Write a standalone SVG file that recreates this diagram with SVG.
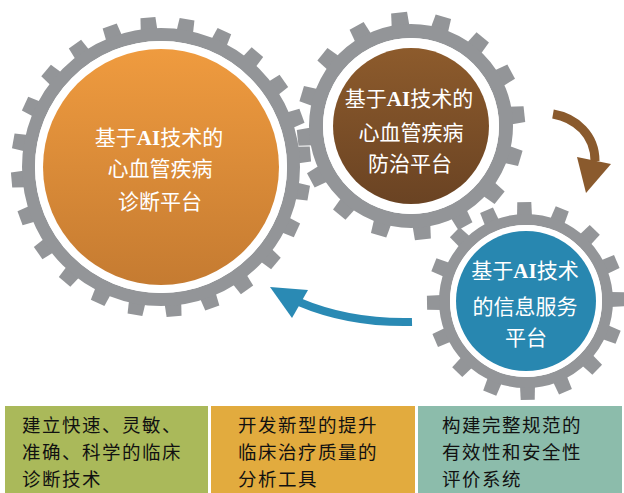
<svg xmlns="http://www.w3.org/2000/svg" xmlns:xlink="http://www.w3.org/1999/xlink" width="624" height="493" viewBox="0 0 624 493">
  <defs>
    <linearGradient id="gradOrange" x1="0" y1="0" x2="0" y2="1">
      <stop offset="0" stop-color="#ef9b3f"/>
      <stop offset="1" stop-color="#c57b31"/>
    </linearGradient>
    <linearGradient id="gradBrown" x1="0" y1="0" x2="0" y2="1">
      <stop offset="0" stop-color="#8d5b2c"/>
      <stop offset="1" stop-color="#6a4323"/>
    </linearGradient>
    <!-- teeth, pointing along +x from the gear centre -->
    <path id="toothL" d="M134,-8.5 L150,-7.5 L150,7.5 L134,8.5 Z"/>
    <path id="toothM" d="M98,-9 L114,-8 L114,8 L98,9 Z"/>
    <path id="toothS" d="M84,-7.5 L99,-7 L99,7 L84,7.5 Z"/>
  </defs>
  <style>
    .gear { fill: #939598; }
    .ring { fill: none; stroke: #939598; }
    .gap { fill: #ffffff; }
    .disk-text { font-family: "Liberation Serif", "Noto Sans CJK SC", serif; font-size: 21px; fill: #ffffff; text-anchor: middle; }
    .disk-text tspan.latin { font-weight: bold; }
    .box-text { font-family: "Noto Sans CJK SC", "Liberation Sans", sans-serif; font-size: 18.5px; letter-spacing: 1.5px; fill: #111111; }
  </style>

  <rect width="624" height="493" fill="#ffffff"/>

  <!-- large gear: diagnosis platform -->
  <g id="gear-diagnosis">
    <g class="gear" transform="translate(161,167)">
      <use xlink:href="#toothL" transform="rotate(10)"/>
      <use xlink:href="#toothL" transform="rotate(25)"/>
      <use xlink:href="#toothL" transform="rotate(40)"/>
      <use xlink:href="#toothL" transform="rotate(55)"/>
      <use xlink:href="#toothL" transform="rotate(70)"/>
      <use xlink:href="#toothL" transform="rotate(85)"/>
      <use xlink:href="#toothL" transform="rotate(100)"/>
      <use xlink:href="#toothL" transform="rotate(115)"/>
      <use xlink:href="#toothL" transform="rotate(130)"/>
      <use xlink:href="#toothL" transform="rotate(145)"/>
      <use xlink:href="#toothL" transform="rotate(160)"/>
      <use xlink:href="#toothL" transform="rotate(175)"/>
      <use xlink:href="#toothL" transform="rotate(190)"/>
      <use xlink:href="#toothL" transform="rotate(205)"/>
      <use xlink:href="#toothL" transform="rotate(220)"/>
      <use xlink:href="#toothL" transform="rotate(235)"/>
      <use xlink:href="#toothL" transform="rotate(250)"/>
      <use xlink:href="#toothL" transform="rotate(265)"/>
      <use xlink:href="#toothL" transform="rotate(280)"/>
      <use xlink:href="#toothL" transform="rotate(295)"/>
      <use xlink:href="#toothL" transform="rotate(310)"/>
      <use xlink:href="#toothL" transform="rotate(325)"/>
      <use xlink:href="#toothL" transform="rotate(340)"/>
      <use xlink:href="#toothL" transform="rotate(355)"/>
    </g>
    <circle class="ring" cx="161" cy="167" r="132.5" stroke-width="13"/>
    <circle class="gap" cx="161" cy="167" r="126"/>
    <circle cx="161" cy="167" r="118" fill="url(#gradOrange)"/>
    <text class="disk-text" x="159" y="145">基于<tspan class="latin">AI</tspan>技术的</text>
    <text class="disk-text" x="160" y="176">心血管疾病</text>
    <text class="disk-text" x="160" y="209">诊断平台</text>
  </g>

  <!-- medium gear: prevention and treatment platform -->
  <g id="gear-prevention">
    <g class="gear" transform="translate(411,126)">
      <use xlink:href="#toothM" transform="rotate(16.5)"/>
      <use xlink:href="#toothM" transform="rotate(39)"/>
      <use xlink:href="#toothM" transform="rotate(61.5)"/>
      <use xlink:href="#toothM" transform="rotate(84)"/>
      <use xlink:href="#toothM" transform="rotate(106.5)"/>
      <use xlink:href="#toothM" transform="rotate(129)"/>
      <use xlink:href="#toothM" transform="rotate(151.5)"/>
      <use xlink:href="#toothM" transform="rotate(174)"/>
      <use xlink:href="#toothM" transform="rotate(196.5)"/>
      <use xlink:href="#toothM" transform="rotate(219)"/>
      <use xlink:href="#toothM" transform="rotate(241.5)"/>
      <use xlink:href="#toothM" transform="rotate(264)"/>
      <use xlink:href="#toothM" transform="rotate(286.5)"/>
      <use xlink:href="#toothM" transform="rotate(309)"/>
      <use xlink:href="#toothM" transform="rotate(331.5)"/>
      <use xlink:href="#toothM" transform="rotate(354)"/>
    </g>
    <circle class="ring" cx="411" cy="126" r="95" stroke-width="14"/>
    <circle class="gap" cx="411" cy="126" r="88"/>
    <circle cx="411" cy="126" r="78" fill="url(#gradBrown)"/>
    <text class="disk-text" x="409" y="106">基于<tspan class="latin">AI</tspan>技术的</text>
    <text class="disk-text" x="411" y="140">心血管疾病</text>
    <text class="disk-text" x="410" y="171">防治平台</text>
  </g>

  <!-- small gear: information service platform -->
  <g id="gear-service">
    <g class="gear" transform="translate(526,301)">
      <use xlink:href="#toothS" transform="rotate(21.5)"/>
      <use xlink:href="#toothS" transform="rotate(44)"/>
      <use xlink:href="#toothS" transform="rotate(66.5)"/>
      <use xlink:href="#toothS" transform="rotate(89)"/>
      <use xlink:href="#toothS" transform="rotate(111.5)"/>
      <use xlink:href="#toothS" transform="rotate(134)"/>
      <use xlink:href="#toothS" transform="rotate(156.5)"/>
      <use xlink:href="#toothS" transform="rotate(179)"/>
      <use xlink:href="#toothS" transform="rotate(201.5)"/>
      <use xlink:href="#toothS" transform="rotate(224)"/>
      <use xlink:href="#toothS" transform="rotate(246.5)"/>
      <use xlink:href="#toothS" transform="rotate(269)"/>
      <use xlink:href="#toothS" transform="rotate(291.5)"/>
      <use xlink:href="#toothS" transform="rotate(314)"/>
      <use xlink:href="#toothS" transform="rotate(336.5)"/>
      <use xlink:href="#toothS" transform="rotate(359)"/>
    </g>
    <circle class="ring" cx="526" cy="301" r="81.5" stroke-width="11"/>
    <circle class="gap" cx="526" cy="301" r="76"/>
    <circle cx="526" cy="301" r="70" fill="#2887b0"/>
    <text class="disk-text" x="525" y="278">基于<tspan class="latin">AI</tspan>技术</text>
    <text class="disk-text" x="525" y="314">的信息服务</text>
    <text class="disk-text" x="526" y="345">平台</text>
  </g>

  <!-- rotation arrows -->
  <g id="connectors">
    <path d="M553,114 C576,118 595,135 595,161" fill="none" stroke="#8a5a2d" stroke-width="9"/>
    <polygon points="577,157 611,164 586,193" fill="#8a5a2d"/>
    <path d="M412,322 C370,323 332,316 299,302" fill="none" stroke="#2a8ab4" stroke-width="8"/>
    <polygon points="270,287 308,290 292,318" fill="#2a8ab4"/>
  </g>

  <!-- goal boxes -->
  <g id="goal-diagnosis">
    <rect x="5" y="406" width="203" height="87" fill="#aab95a"/>
    <text class="box-text" x="22" y="432">建立快速、灵敏、</text>
    <text class="box-text" x="22" y="459">准确、科学的临床</text>
    <text class="box-text" x="22" y="486">诊断技术</text>
  </g>
  <g id="goal-tools">
    <rect x="211" y="406" width="204" height="87" fill="#e2ab3e"/>
    <text class="box-text" x="238" y="432">开发新型的提升</text>
    <text class="box-text" x="238" y="459">临床治疗质量的</text>
    <text class="box-text" x="238" y="486">分析工具</text>
  </g>
  <g id="goal-evaluation">
    <rect x="418" y="406" width="204" height="87" fill="#8cbcab"/>
    <text class="box-text" x="442" y="432">构建完整规范的</text>
    <text class="box-text" x="442" y="459">有效性和安全性</text>
    <text class="box-text" x="442" y="486">评价系统</text>
  </g>
</svg>
